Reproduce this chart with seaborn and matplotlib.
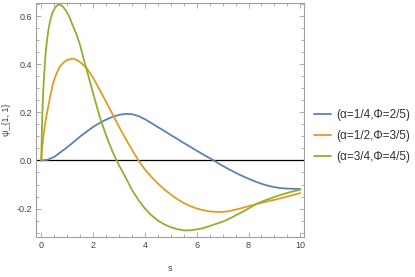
import numpy as np
import pandas as pd
import matplotlib
matplotlib.use("Agg")
import matplotlib.pyplot as plt
from matplotlib.ticker import MultipleLocator, FormatStrFormatter
import seaborn as sns

# values
s_blue = [0, 0.25, 0.5, 0.75, 1.0, 1.25, 1.5, 1.75, 2.0, 2.25, 2.5, 2.75, 3.0, 3.25,
          3.5, 3.75, 4.0, 4.25, 4.5, 4.75, 5.0, 5.25, 5.5, 5.75, 6.0, 6.25, 6.5, 6.75,
          7.0, 7.25, 7.5, 7.75, 8.0, 8.25, 8.5, 8.75, 9.0, 9.25, 9.5, 9.75, 10]
psi_blue = [0, 0.003, 0.015, 0.035, 0.055, 0.077, 0.1, 0.12, 0.14, 0.156, 0.17, 0.182,
            0.19, 0.194, 0.193, 0.185, 0.172, 0.156, 0.139, 0.123, 0.106, 0.09, 0.073,
            0.057, 0.041, 0.025, 0.01, -0.006, -0.022, -0.037, -0.051, -0.064, -0.076,
            -0.087, -0.097, -0.105, -0.111, -0.115, -0.117, -0.118, -0.119]

s_orange = [0, 0.02, 0.04, 0.08, 0.13, 0.19, 0.26, 0.35, 0.45, 0.58, 0.71, 0.85, 0.97,
            1.1, 1.22, 1.35, 1.5, 1.75, 2.0, 2.25, 2.5, 2.75, 3.0, 3.25, 3.5, 3.75, 4.0,
            4.25, 4.5, 4.75, 5.0, 5.25, 5.5, 5.75, 6.0, 6.25, 6.5, 6.75, 7.0, 7.25, 7.5,
            7.75, 8.0, 8.25, 8.5, 8.75, 9.0, 9.25, 9.5, 9.75, 10]
psi_orange = [0, 0.035, 0.06, 0.1, 0.14, 0.18, 0.22, 0.27, 0.32, 0.36, 0.39, 0.407,
              0.417, 0.422, 0.424, 0.42, 0.41, 0.385, 0.345, 0.295, 0.245, 0.193, 0.141,
              0.092, 0.045, 0.0, -0.037, -0.068, -0.096, -0.12, -0.142, -0.161, -0.177,
              -0.19, -0.2, -0.207, -0.212, -0.214, -0.214, -0.211, -0.205, -0.198, -0.19,
              -0.183, -0.176, -0.17, -0.164, -0.157, -0.15, -0.143, -0.136]

s_green = [0, 0.01, 0.02, 0.04, 0.06, 0.09, 0.13, 0.17, 0.22, 0.27, 0.32, 0.38, 0.45,
           0.54, 0.64, 0.73, 0.83, 0.95, 1.09, 1.2, 1.35, 1.5, 1.68, 1.85, 2.0, 2.25,
           2.5, 2.75, 3.0, 3.25, 3.5, 3.75, 4.0, 4.25, 4.5, 4.75, 5.0, 5.25, 5.5, 5.75,
           6.0, 6.25, 6.5, 6.75, 7.0, 7.25, 7.5, 7.75, 8.0, 8.25, 8.5, 8.75, 9.0, 9.25,
           9.5, 9.75, 10]
psi_green = [0, 0.06, 0.11, 0.19, 0.25, 0.32, 0.39, 0.45, 0.5, 0.54, 0.57, 0.598, 0.62,
             0.638, 0.648, 0.649, 0.642, 0.625, 0.597, 0.566, 0.528, 0.48, 0.405, 0.34,
             0.28, 0.185, 0.105, 0.037, -0.02, -0.07, -0.122, -0.165, -0.2, -0.228,
             -0.25, -0.266, -0.278, -0.286, -0.291, -0.291, -0.287, -0.282, -0.273,
             -0.264, -0.255, -0.243, -0.229, -0.215, -0.2, -0.184, -0.172, -0.162,
             -0.152, -0.143, -0.135, -0.128, -0.122]

labels = ["(α=1/4,Φ=2/5)", "(α=1/2,Φ=3/5)", "(α=3/4,Φ=4/5)"]
colors = ["#5E81B5", "#E19C24", "#8FB032"]

sns.set_style("ticks")
plt.rcParams['font.family'] = ['Liberation Sans', 'DejaVu Sans']

fig = plt.figure(figsize=(4.15, 2.77), dpi=100)
ax = fig.add_axes([0.087, 0.145, 0.646, 0.845])

ax.axhline(0, color="black", lw=0.9, zorder=1)
series = [(s_blue, psi_blue), (s_orange, psi_orange), (s_green, psi_green)]
for (sx, sy), lab, col in zip(series, labels, colors):
    sns.lineplot(x=sx, y=sy, ax=ax, color=col, lw=1.3, label=lab, sort=False, zorder=3)

ax.set_xlim(-0.2, 10.15)
ax.set_ylim(-0.318, 0.657)
ax.xaxis.set_major_locator(MultipleLocator(2))
ax.xaxis.set_minor_locator(MultipleLocator(0.5))
ax.yaxis.set_major_locator(MultipleLocator(0.2))
ax.yaxis.set_minor_locator(MultipleLocator(0.05))
ax.yaxis.set_major_formatter(FormatStrFormatter('%.1f'))

frame_col = "#a0a0a0"
for sp in ax.spines.values():
    sp.set_color(frame_col)
    sp.set_linewidth(0.8)
ax.tick_params(which="both", direction="in", top=True, right=True, color=frame_col,
               labelsize=6.5, labelcolor="#444444", width=0.6)
ax.tick_params(which="major", length=3.5, pad=3)
ax.tick_params(which="minor", length=2)

ax.set_xlabel("s", fontsize=6.5, color="#444444", labelpad=10)
ax.set_ylabel("ψ_{1, 1}", fontsize=6.5, color="#444444")
ax.yaxis.set_label_coords(-0.092, 0.5)

leg = ax.legend(loc="center left", bbox_to_anchor=(1.0, 0.43), frameon=False,
                fontsize=8.5, handlelength=1.5, labelspacing=0.75, handletextpad=0.4,
                borderaxespad=0.4)
for t in leg.get_texts():
    t.set_color("#333333")

fig.savefig("out.png", dpi=100)
